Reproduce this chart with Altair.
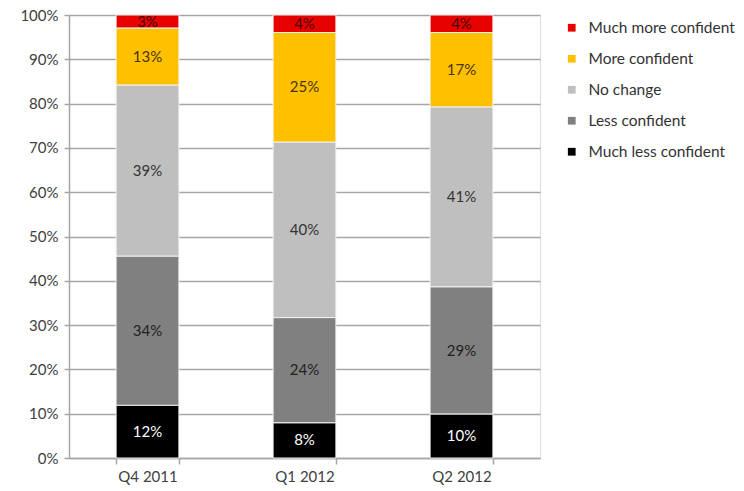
import altair as alt
import pandas as pd

quarters = ["Q4 2011", "Q1 2012", "Q2 2012"]
series = ["Much more confident", "More confident", "No change", "Less confident", "Much less confident"]
much_more = [3, 4, 4]
more = [13, 25, 17]
no_change = [39, 40, 41]
less = [34, 24, 29]
much_less = [12, 8, 10]

colors = ["#e60000", "#ffc000", "#bfbfbf", "#808080", "#000000"]
label_colors = ["#4a0000", "#4a3300", "#333333", "#222222", "#ffffff"]

rows = []
vals = [much_more, more, no_change, less, much_less]
for si, s in enumerate(series):
    for qi, q in enumerate(quarters):
        rows.append({"quarter": q, "series": s, "value": vals[si][qi],
                     "order": len(series) - 1 - si, "label": f"{vals[si][qi]}%"})
df = pd.DataFrame(rows)

FONT = "Lato"

base = alt.Chart(df).transform_joinaggregate(
    total="sum(value)", groupby=["quarter"]
).transform_window(
    cum="sum(value)", groupby=["quarter"], sort=[alt.SortField("order", order="ascending")],
    frame=[None, 0]
).transform_calculate(
    y_end="datum.cum / datum.total",
    y_start="(datum.cum - datum.value) / datum.total",
    y_mid="(datum.cum - datum.value / 2) / datum.total",
)

x_enc = alt.X("quarter:N", sort=quarters, title=None,
              scale=alt.Scale(paddingInner=0.6, paddingOuter=0.3),
              axis=alt.Axis(labelAngle=0, labelFont=FONT, labelFontSize=15, labelColor="#404040",
                            domainColor="#a6a6a6", domainWidth=1.5, tickColor="#a6a6a6",
                            tickWidth=1.5, tickSize=6, tickBand="extent", labelPadding=5,
                            grid=False))
y_scale = alt.Scale(domain=[0, 1], nice=False)

bars = base.mark_bar(stroke="#f2f2f2", strokeWidth=1).encode(
    x=x_enc,
    y=alt.Y("y_start:Q", scale=y_scale, title=None,
            axis=alt.Axis(format=".0%", values=[i / 10 for i in range(11)], labelFont=FONT,
                          labelFontSize=15, labelColor="#404040", labelPadding=6,
                          domainColor="#a6a6a6", domainWidth=1.5, tickColor="#a6a6a6",
                          tickWidth=1.5, tickSize=5, gridColor="#a6a6a6", gridWidth=1.5)),
    y2="y_end:Q",
    color=alt.Color("series:N", scale=alt.Scale(domain=series, range=colors), title=None,
                    legend=alt.Legend(orient="none", legendX=495, legendY=5, symbolType="square",
                                      symbolSize=60, labelFont=FONT, labelFontSize=15.5,
                                      labelColor="#333333", rowPadding=14, symbolStrokeWidth=0,
                                      labelOffset=9, labelLimit=240)),
)

texts = base.mark_text(font=FONT, fontSize=15).encode(
    x=alt.X("quarter:N", sort=quarters),
    y=alt.Y("y_mid:Q", scale=y_scale),
    text="label:N",
    color=alt.Color("series:N", scale=alt.Scale(domain=series, range=label_colors), legend=None),
)

chart = alt.layer(bars, texts).resolve_scale(color="independent").properties(
    width=471, height=443,
    autosize=alt.AutoSizeParams(type="none"),
    padding={"left": 69, "top": 15, "right": 204, "bottom": 33},
).configure_view(stroke=None).configure(background="white")

chart.save("out.html", embed_options={"renderer": "svg", "actions": False})
